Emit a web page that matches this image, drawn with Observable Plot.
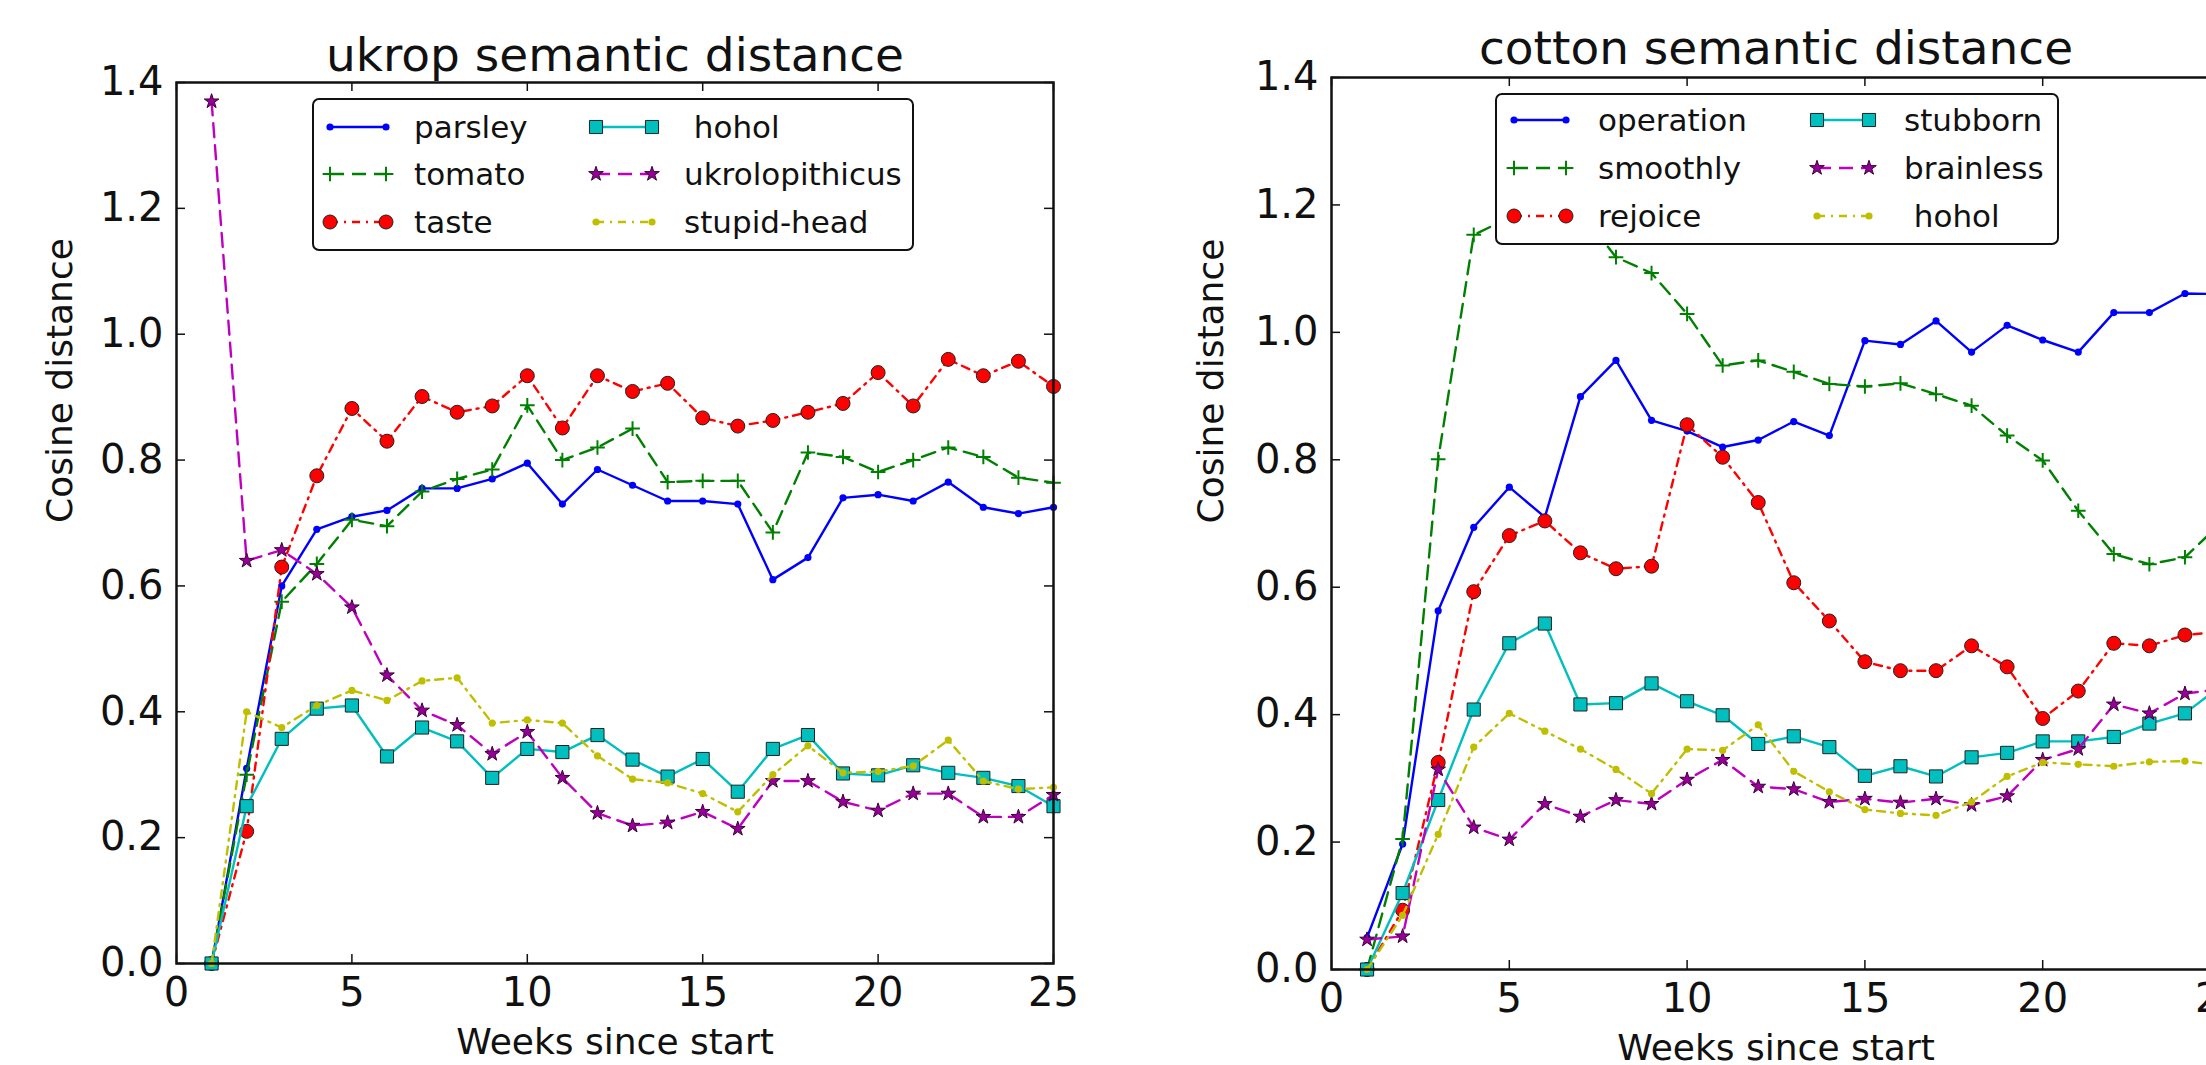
<!DOCTYPE html>
<html><head><meta charset="utf-8">
<script src="https://cdn.jsdelivr.net/npm/d3@7"></script>
<script src="https://cdn.jsdelivr.net/npm/@observablehq/plot@0.6"></script>
<style>
html,body{margin:0;padding:0;background:#fff;overflow:hidden;width:2206px;height:1065px;}
#root{position:relative;width:2206px;height:1065px;overflow:hidden;font-family:"DejaVu Sans",sans-serif;background:#fff;}
.panel{position:absolute;top:0;overflow:visible;}
.panel svg{max-width:none !important;display:block;}
.legend{position:absolute;background:#fff;border:2.5px solid #111;border-radius:7px;box-sizing:border-box;}
.legend .item{position:absolute;display:flex;align-items:center;height:40px;transform:translateY(-50%);}
.legend .lab{position:absolute;font-size:31px;white-space:pre;color:#111;transform:translateY(-50%);line-height:40px;}
</style></head><body><div id="root"></div><script>
// ---------- data ----------
const weeks = [1,2,3,4,5,6,7,8,9,10,11,12,13,14,15,16,17,18,19,20,21,22,23,24,25];
const xTicks = [0,5,10,15,20,25];
const yTicks = [0,0.2,0.4,0.6,0.8,1.0,1.2,1.4];

// ukrop panel
const parsley        = [0.00,0.31,0.60,0.69,0.71,0.72,0.755,0.755,0.77,0.795,0.73,0.785,0.76,0.735,0.735,0.73,0.61,0.645,0.74,0.745,0.735,0.765,0.725,0.715,0.725];
const tomato         = [0.00,0.30,0.575,0.635,0.705,0.695,0.75,0.77,0.785,0.887,0.80,0.82,0.85,0.765,0.767,0.767,0.685,0.812,0.805,0.781,0.80,0.82,0.805,0.772,0.764];
const taste          = [0.00,0.21,0.63,0.775,0.882,0.83,0.901,0.876,0.886,0.934,0.851,0.934,0.909,0.922,0.867,0.854,0.863,0.876,0.89,0.939,0.886,0.96,0.934,0.957,0.917];
const hoholUkrop     = [0.00,0.25,0.357,0.405,0.41,0.329,0.375,0.353,0.295,0.341,0.336,0.363,0.324,0.297,0.325,0.273,0.341,0.363,0.302,0.299,0.315,0.303,0.295,0.282,0.25];
const ukrolopithicus = [1.37,0.64,0.657,0.619,0.566,0.458,0.402,0.379,0.333,0.368,0.295,0.239,0.219,0.224,0.241,0.214,0.29,0.29,0.257,0.243,0.27,0.27,0.233,0.233,0.268];
const stupidHead     = [0.00,0.40,0.375,0.41,0.434,0.418,0.449,0.454,0.382,0.387,0.382,0.33,0.293,0.287,0.27,0.241,0.30,0.346,0.303,0.305,0.314,0.355,0.29,0.277,0.28];

// cotton panel
const operation   = [0.05,0.197,0.563,0.694,0.757,0.71,0.899,0.956,0.862,0.845,0.82,0.831,0.86,0.838,0.987,0.981,1.018,0.969,1.011,0.988,0.969,1.031,1.031,1.061,1.06];
const smoothly    = [0.00,0.205,0.801,1.153,1.18,1.20,1.19,1.118,1.093,1.029,0.948,0.956,0.938,0.919,0.915,0.92,0.903,0.885,0.838,0.799,0.72,0.652,0.636,0.647,0.70];
const rejoice     = [0.00,0.093,0.325,0.593,0.681,0.704,0.654,0.629,0.633,0.855,0.804,0.733,0.607,0.547,0.483,0.469,0.469,0.508,0.475,0.394,0.437,0.512,0.508,0.525,0.53];
const stubborn    = [0.00,0.12,0.266,0.408,0.512,0.543,0.416,0.418,0.449,0.421,0.399,0.354,0.366,0.349,0.304,0.319,0.303,0.333,0.34,0.358,0.358,0.365,0.386,0.402,0.445];
const brainless   = [0.047,0.052,0.314,0.223,0.204,0.26,0.24,0.266,0.26,0.298,0.329,0.287,0.283,0.263,0.268,0.262,0.268,0.258,0.272,0.329,0.346,0.416,0.402,0.433,0.44];
const hoholCotton = [0.00,0.085,0.212,0.349,0.402,0.374,0.346,0.314,0.276,0.346,0.344,0.384,0.311,0.279,0.251,0.245,0.242,0.263,0.303,0.325,0.322,0.319,0.326,0.327,0.32];

const ukropNames  = ["parsley","tomato","taste"," hohol","ukrolopithicus","stupid-head"];
const cottonNames = ["operation","smoothly","rejoice","stubborn","brainless"," hohol"];

// ---------- styles ----------
const STY = {
  b:{stroke:"#0000ff", symbol:"circle", r:3.6, fill:"#0000ff", mstroke:"none"},
  g:{stroke:"#008000", dash:"14,8", symbol:"plus", r:4.8, fill:"none", mstroke:"#008000"},
  r:{stroke:"#ff0000", dash:"8,6,2,6", symbol:"circle", r:7, fill:"#ff0000", mstroke:"#222"},
  c:{stroke:"#00bfbf", symbol:"square", r:7.4, fill:"#00bfbf", mstroke:"#222"},
  m:{stroke:"#bf00bf", dash:"14,8", symbol:"star", r:4.6, fill:"#960096", mstroke:"#3a003a"},
  y:{stroke:"#bfbf00", dash:"8,6,2,6", symbol:"circle", r:3.6, fill:"#bfbf00", mstroke:"none"}
};
const styleOrder = ["b","g","r","c","m","y"];

function seriesMarks(values, s) {
  const rows = weeks.map((w, i) => ({week: w, value: values[i]}));
  const lineOpts = {x: "week", y: "value", stroke: s.stroke, strokeWidth: 2.4};
  if (s.dash) lineOpts.strokeDasharray = s.dash;
  return [
    Plot.line(rows, lineOpts),
    Plot.dot(rows, {x: "week", y: "value", symbol: s.symbol, r: s.r, fill: s.fill,
      stroke: s.mstroke, strokeWidth: s.symbol === "plus" ? 2 : 1})
  ];
}

function panel(cfg) {
  const fw = cfg.width - cfg.ml - cfg.mr;
  const fh = cfg.height - cfg.mt - cfg.mb;
  const marks = [];
  cfg.series.forEach((vals, i) => marks.push(...seriesMarks(vals, STY[styleOrder[i]])));
  marks.push(
    Plot.tickY(yTicks, {y: d => d, insetRight: fw - 9, stroke: "#111", strokeWidth: 1.5}),
    Plot.tickY(yTicks, {y: d => d, insetLeft: fw - 9, stroke: "#111", strokeWidth: 1.5}),
    Plot.tickX(xTicks, {x: d => d, insetTop: fh - 9, stroke: "#111", strokeWidth: 1.5}),
    Plot.tickX(xTicks, {x: d => d, insetBottom: fh - 9, stroke: "#111", strokeWidth: 1.5}),
    Plot.frame({stroke: "#111", strokeWidth: 2.5}),
    Plot.text([cfg.title], {text: d => d, frameAnchor: "top", lineAnchor: "middle", dy: cfg.titleDy, fontSize: 47, fill: "#111"}),
    Plot.text(["Weeks since start"], {text: d => d, frameAnchor: "bottom", lineAnchor: "middle", dy: 79, fontSize: 36, fill: "#111"}),
    Plot.text(["Cosine distance"], {text: d => d, frameAnchor: "left", lineAnchor: "middle", dx: cfg.ylabDx, rotate: -90, fontSize: 36, fill: "#111"})
  );
  const svg = Plot.plot({
    width: cfg.width, height: cfg.height,
    marginLeft: cfg.ml, marginRight: cfg.mr, marginTop: cfg.mt, marginBottom: cfg.mb,
    x: {domain: [0, 25], ticks: xTicks, tickFormat: d => String(d), tickSize: 0, tickPadding: 14, label: null},
    y: {domain: [0, 1.4], ticks: yTicks, tickFormat: d3.format(".1f"), tickSize: 0, tickPadding: 13, label: null},
    style: {fontFamily: "DejaVu Sans", fontSize: "40px", color: "#111", background: "transparent", overflow: "visible", maxWidth: "none"},
    marks
  });
  svg.style.maxWidth = "none";
  svg.style.width = cfg.width + "px";
  svg.style.height = cfg.height + "px";
  const wrap = document.createElement("div");
  wrap.className = "panel";
  wrap.style.left = cfg.left + "px";
  wrap.style.width = cfg.width + "px";
  wrap.style.height = cfg.height + "px";
  wrap.appendChild(svg);
  return wrap;
}

const symMap = {circle: d3.symbolCircle, square: d3.symbolSquare, star: d3.symbolStar, plus: d3.symbolPlus};
function handle(s, w) {
  const pad = 10, h = 40;
  const svg = d3.create("svg").attr("width", w + 2 * pad).attr("height", h);
  const l = svg.append("line").attr("x1", pad).attr("x2", pad + w).attr("y1", h / 2).attr("y2", h / 2)
    .attr("stroke", s.stroke).attr("stroke-width", 2.4);
  if (s.dash) l.attr("stroke-dasharray", s.dash);
  const path = d3.symbol(symMap[s.symbol], Math.PI * s.r * s.r)();
  [pad, pad + w].forEach(x => {
    svg.append("path").attr("d", path).attr("transform", `translate(${x},${h / 2})`)
      .attr("fill", s.fill).attr("stroke", s.mstroke)
      .attr("stroke-width", s.symbol === "plus" ? 2 : 1);
  });
  return svg.node();
}

function legend(cfg) {
  const box = document.createElement("div");
  box.className = "legend";
  Object.assign(box.style, {left: cfg.x + "px", top: cfg.y + "px", width: cfg.w + "px", height: cfg.h + "px"});
  cfg.names.forEach((name, i) => {
    const col = Math.floor(i / 3), row = i % 3;
    const it = document.createElement("div");
    it.className = "item";
    it.style.left = (cfg.hx[col] - 10) + "px";
    it.style.top = cfg.rows[row] + "px";
    it.appendChild(handle(STY[styleOrder[i]], cfg.hw));
    box.appendChild(it);
    const lab = document.createElement("div");
    lab.className = "lab";
    lab.textContent = name;
    lab.style.left = cfg.tx[col] + "px";
    lab.style.top = cfg.rows[row] + "px";
    box.appendChild(lab);
  });
  return box;
}

const root = document.getElementById("root");
root.appendChild(panel({
  left: 0, width: 1100, height: 1065, ml: 176, mr: 47, mt: 82, mb: 102,
  title: "ukrop semantic distance", titleDy: -27, ylabDx: -116,
  series: [parsley, tomato, taste, hoholUkrop, ukrolopithicus, stupidHead]
}));
root.appendChild(panel({
  left: 1150, width: 1150, height: 1065, ml: 181, mr: 80, mt: 77, mb: 96,
  title: "cotton semantic distance", titleDy: -29, ylabDx: -120,
  series: [operation, smoothly, rejoice, stubborn, brainless, hoholCotton]
}));
root.appendChild(legend({
  x: 312, y: 98, w: 602, h: 153, names: ukropNames,
  hx: [16, 282], hw: 56, tx: [100, 370], rows: [27, 74, 122]
}));
root.appendChild(legend({
  x: 1495, y: 93, w: 564, h: 152, names: cottonNames,
  hx: [17, 320], hw: 52, tx: [101, 407], rows: [25, 73, 121]
}));
</script></body></html>
